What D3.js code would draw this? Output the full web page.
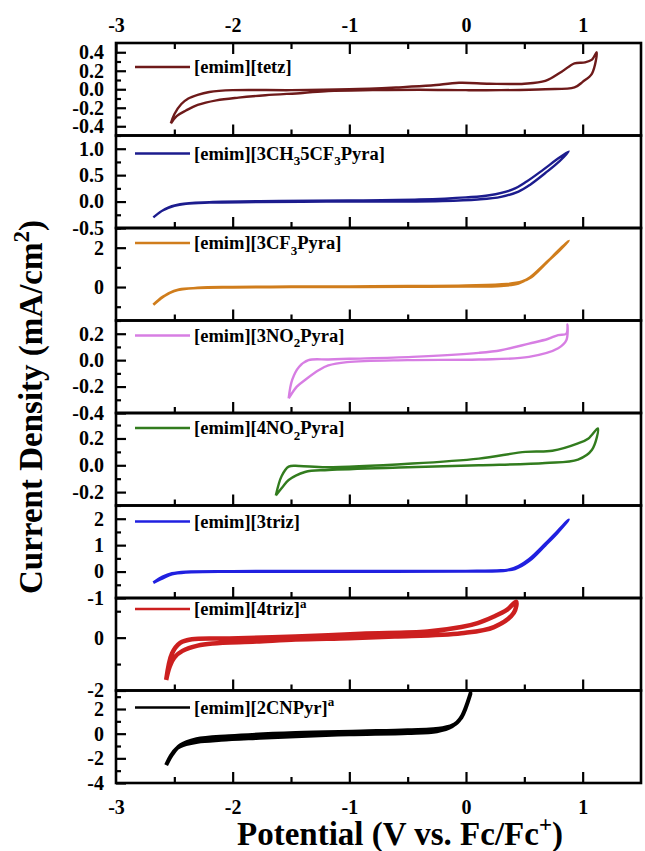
<!DOCTYPE html>
<html>
<head>
<meta charset="utf-8">
<script src="https://d3js.org/d3.v7.min.js"></script>
<style>
body { margin: 0; background: #fff; }
text { font-family: "Liberation Serif", "Times New Roman", serif; font-weight: bold; fill: #000; }
</style>
</head>
<body>
<script>
// ---- data ----
var xTicks = [-3, -2, -1, 0, 1];
var xMinor = [-2.5, -1.5, -0.5, 0.5];

var names = ["[emim][tetz]", "[emim][3CH_35CF_3Pyra]", "[emim][3CF_3Pyra]", "[emim][3NO_2Pyra]",
             "[emim][4NO_2Pyra]", "[emim][3triz]", "[emim][4triz]^a", "[emim][2CNPyr]^a"];
var colors = ["#6e1a1a", "#1c1c8e", "#d07d1c", "#d77ee3", "#327c1e", "#2020e0", "#cc1f1f", "#000000"];

var yDomains = [[-0.5, 0.5], [-0.5, 1.25], [-1.7, 3], [-0.4, 0.3],
                [-0.3, 0.39], [-1, 2.5], [-2, 1.5], [-4, 3.5]];
var yMajor = [[0.4, 0.2, 0, -0.2, -0.4], [1, 0.5, 0, -0.5], [2, 0], [0.2, 0, -0.2, -0.4],
              [0.2, 0, -0.2], [2, 1, 0, -1], [0, -2], [2, 0, -2, -4]];
var yMinor = [[0.3, 0.1, -0.1, -0.3], [1.25, 0.75, 0.25, -0.25], [3, 1, -1], [0.3, 0.1, -0.1, -0.3],
              [0.3, 0.1, -0.1], [2.5, 1.5, 0.5, -0.5], [1, -1], [3, 1, -1, -3]];
var yDecimals = [1, 1, 0, 1, 1, 0, 0, 0];

// cyclic voltammograms, [V, mA/cm2], one closed loop each
var tetz = [[-2.53,-0.37],[-2.48,-0.29],[-2.40,-0.23],[-2.30,-0.17],[-2.14,-0.12],[-1.95,-0.09],[-1.72,-0.065],
  [-1.40,-0.04],[-1.18,-0.02],[-0.80,-0.01],[-0.40,-0.005],[0.0,-0.01],[0.30,-0.01],[0.68,0.0],[0.93,0.02],
  [1.0,0.08],[1.08,0.17],[1.12,0.40],[1.08,0.32],[1.02,0.29],[0.93,0.28],[0.82,0.19],[0.68,0.09],[0.50,0.06],
  [0.20,0.06],[-0.06,0.07],[-0.30,0.04],[-0.60,0.02],[-1.0,0.0],[-1.5,-0.01],[-2.0,-0.01],[-2.20,-0.03],
  [-2.30,-0.06],[-2.38,-0.10],[-2.44,-0.16],[-2.50,-0.27],[-2.53,-0.37]];
var ch3cf3 = [[-2.68,-0.30],[-2.60,-0.17],[-2.50,-0.08],[-2.40,-0.04],[-2.20,-0.02],[-1.80,-0.01],[-1.20,0.0],
  [-0.60,0.0],[-0.20,0.01],[0.10,0.04],[0.30,0.09],[0.45,0.19],[0.55,0.32],[0.68,0.54],[0.80,0.76],[0.88,0.95],
  [0.78,0.80],[0.66,0.60],[0.52,0.38],[0.40,0.23],[0.20,0.12],[0.0,0.08],[-0.40,0.04],[-1.0,0.02],[-1.60,0.01],
  [-2.20,-0.01],[-2.45,-0.05],[-2.58,-0.14],[-2.68,-0.30]];
var cf3 = [[-2.68,-0.90],[-2.62,-0.60],[-2.55,-0.32],[-2.46,-0.12],[-2.30,-0.05],[-2.0,-0.02],[-1.5,0.0],
  [-1.0,0.0],[-0.5,0.02],[0.0,0.03],[0.30,0.06],[0.45,0.18],[0.55,0.50],[0.68,1.20],[0.80,1.85],[0.88,2.35],
  [0.78,1.78],[0.66,1.05],[0.56,0.50],[0.48,0.28],[0.35,0.15],[0.0,0.08],[-0.5,0.05],[-1.0,0.03],[-1.5,0.02],
  [-2.0,0.0],[-2.30,-0.04],[-2.50,-0.20],[-2.60,-0.50],[-2.68,-0.90]];
var no2_3 = [[-1.52,-0.29],[-1.45,-0.20],[-1.38,-0.15],[-1.26,-0.075],[-1.18,-0.04],[-1.02,-0.015],[-0.5,0.0],
  [0.11,0.005],[0.54,0.025],[0.79,0.09],[0.86,0.15],[0.87,0.27],[0.86,0.20],[0.79,0.19],[0.70,0.16],
  [0.54,0.125],[0.30,0.075],[0.11,0.055],[-0.46,0.025],[-1.0,0.01],[-1.18,0.005],[-1.35,0.0],[-1.43,-0.05],
  [-1.49,-0.15],[-1.52,-0.29]];
var no2_4 = [[-1.63,-0.225],[-1.57,-0.16],[-1.52,-0.11],[-1.38,-0.05],[-1.18,-0.035],[-0.5,-0.015],[0.11,0.0],
  [0.68,0.017],[0.96,0.043],[1.08,0.116],[1.13,0.275],[1.05,0.20],[0.96,0.163],[0.74,0.108],[0.51,0.10],
  [0.11,0.05],[-0.46,0.013],[-1.20,-0.015],[-1.43,-0.005],[-1.52,-0.01],[-1.58,-0.08],[-1.63,-0.225]];
var triz3 = [[-2.68,-0.42],[-2.60,-0.25],[-2.52,-0.10],[-2.40,-0.03],[-2.0,0.0],[-1.0,0.0],[0.0,0.01],
  [0.35,0.05],[0.45,0.20],[0.54,0.46],[0.68,1.05],[0.78,1.50],[0.88,1.96],[0.78,1.45],[0.68,1.0],[0.54,0.40],
  [0.42,0.10],[0.30,0.04],[0.0,0.02],[-1.0,0.02],[-2.0,0.01],[-2.40,-0.01],[-2.52,-0.07],[-2.60,-0.20],[-2.68,-0.42]];
var triz4 = [[-2.57,-1.60],[-2.54,-1.10],[-2.50,-0.75],[-2.43,-0.50],[-2.30,-0.30],[-2.17,-0.22],[-1.80,-0.15],
  [-1.46,-0.07],[-1.0,-0.02],[-0.61,0.04],[-0.04,0.17],[0.24,0.40],[0.41,0.94],[0.43,1.36],[0.35,1.05],
  [0.24,0.80],[0.10,0.55],[-0.04,0.40],[-0.33,0.23],[-0.90,0.15],[-1.46,0.04],[-2.03,-0.03],[-2.35,-0.06],
  [-2.45,-0.20],[-2.52,-0.60],[-2.57,-1.60]];
var cnpyr = [[-2.57,-2.55],[-2.53,-1.80],[-2.48,-1.20],[-2.40,-0.85],[-2.30,-0.65],[-2.10,-0.50],[-1.80,-0.35],
  [-1.46,-0.20],[-1.0,-0.05],[-0.5,0.05],[-0.25,0.20],[-0.12,0.60],[-0.04,1.30],[0.04,3.30],[-0.03,1.50],
  [-0.09,0.80],[-0.20,0.45],[-0.5,0.28],[-0.9,0.18],[-1.46,0.05],[-2.03,-0.20],[-2.31,-0.45],[-2.45,-0.95],
  [-2.52,-1.70],[-2.57,-2.55]];
var curves = [tetz, ch3cf3, cf3, no2_3, no2_4, triz3, triz4, cnpyr];

// ---- layout ----
var w = 645, h = 851;
var plotLeft = 116, plotRight = 641, plotTop = 43, panelH = 92.5;
var legendDy = [24, 18, 15, 15, 15, 16, 11, 17];
var lineWidths = [2.4, 2.4, 2.6, 2.4, 2.4, 2.8, 4.5, 4];

var svg = d3.select("body").append("svg").attr("width", w).attr("height", h);

var xScale = d3.scaleLinear().domain([-3, 1.5]).range([plotLeft, plotRight]);

// text with _x (sub) and ^x (sup) markers
function richText(sel, str, size) {
  var small = Math.round(size * 0.7);
  var shift = 0;
  for (var i = 0; i < str.length; i++) {
    var c = str[i];
    if (c === "_" || c === "^") {
      var d = c === "_" ? size * 0.3 : -size * 0.4;
      sel.append("tspan").attr("dy", d - shift).attr("font-size", small).text(str[i + 1]);
      shift = d; i++;
    } else {
      var t = sel.append("tspan").attr("font-size", size).text(c);
      if (shift !== 0) { t.attr("dy", -shift); shift = 0; }
    }
  }
}

function styleAxis(g) {
  g.select(".domain").remove();
  g.selectAll(".tick line").attr("stroke", "#000").attr("stroke-width", 2.2);
  g.selectAll("text").attr("font-size", 20).attr("font-family", "Liberation Serif").attr("font-weight", "bold");
}

curves.forEach(function(data, i) {
  var y0 = plotTop + i * panelH, y1 = y0 + panelH;
  var yScale = d3.scaleLinear().domain(yDomains[i]).range([y1, y0]);
  var fmt = d3.format("." + yDecimals[i] + "f");

  var line = d3.line()
    .x(function(d) { return xScale(d[0]); })
    .y(function(d) { return yScale(d[1]); })
    .curve(d3.curveCatmullRom.alpha(0.5));

  svg.append("path").datum(data)
    .attr("d", line)
    .attr("fill", "none")
    .attr("stroke", colors[i])
    .attr("stroke-width", lineWidths[i])
    .attr("stroke-linejoin", "round");

  // y axis (ticks inward)
  svg.append("g").attr("transform", "translate(" + plotLeft + ",0)")
    .call(d3.axisLeft(yScale).tickValues(yMajor[i]).tickSize(-10).tickSizeOuter(0).tickPadding(12)
      .tickFormat(function(d) { return fmt(d).replace("\u2212", "-"); }))
    .call(styleAxis);
  svg.append("g").attr("transform", "translate(" + plotLeft + ",0)")
    .call(d3.axisLeft(yScale).tickValues(yMinor[i]).tickSize(-5).tickSizeOuter(0).tickFormat(""))
    .call(styleAxis);

  // x ticks on panel bottom, pointing up
  svg.append("g").attr("transform", "translate(0," + y1 + ")")
    .call(d3.axisBottom(xScale).tickValues(xTicks.slice(1)).tickSize(-11).tickSizeOuter(0).tickFormat(""))
    .call(styleAxis);
  svg.append("g").attr("transform", "translate(0," + y1 + ")")
    .call(d3.axisBottom(xScale).tickValues(xMinor).tickSize(-6).tickSizeOuter(0).tickFormat(""))
    .call(styleAxis);

  // frame
  svg.append("rect").attr("x", plotLeft).attr("y", y0).attr("width", plotRight - plotLeft).attr("height", panelH)
    .attr("fill", "none").attr("stroke", "#000").attr("stroke-width", 2.6);

  // legend
  var ly = y0 + legendDy[i];
  svg.append("line").attr("x1", 135).attr("x2", 190).attr("y1", ly).attr("y2", ly)
    .attr("stroke", colors[i]).attr("stroke-width", 2.6);
  var t = svg.append("text").attr("x", 194).attr("y", ly + 6);
  richText(t, names[i], 18.5);
});

// top axis (ticks down into first panel, labels above)
svg.append("g").attr("transform", "translate(0," + plotTop + ")")
  .call(d3.axisTop(xScale).tickValues(xTicks).tickSize(-11).tickSizeOuter(0).tickPadding(11)
    .tickFormat(function(d) { return String(d); }))
  .call(styleAxis);
svg.append("g").attr("transform", "translate(0," + plotTop + ")")
  .call(d3.axisTop(xScale).tickValues(xMinor).tickSize(-6).tickSizeOuter(0).tickFormat(""))
  .call(styleAxis);

// bottom labels
var plotBottom = plotTop + panelH * curves.length;
svg.append("g").attr("transform", "translate(0," + plotBottom + ")")
  .call(d3.axisBottom(xScale).tickValues(xTicks).tickSize(0).tickPadding(17)
    .tickFormat(function(d) { return String(d); }))
  .call(styleAxis);

// axis titles
var xt = svg.append("text").attr("x", 400).attr("y", 845).attr("text-anchor", "middle");
richText(xt, "Potential (V vs. Fc/Fc^+)", 33);
var yt = svg.append("text").attr("transform", "translate(42,407) rotate(-90)").attr("text-anchor", "middle");
richText(yt, "Current Density (mA/cm^2)", 33);
</script>
</body>
</html>
